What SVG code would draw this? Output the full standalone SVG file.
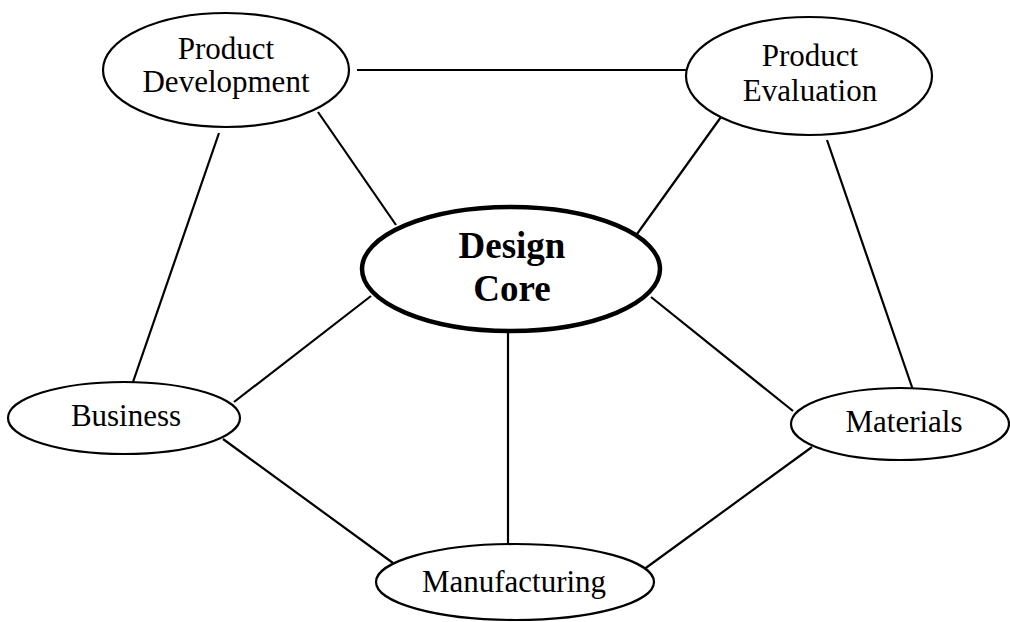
<svg xmlns="http://www.w3.org/2000/svg" width="1010" height="622" viewBox="0 0 1010 622">
<style>
.n{fill:#fff;stroke:#000;stroke-width:2.2}
.core{fill:#fff;stroke:#000;stroke-width:4.5}
.t{font-family:"Liberation Serif","Times New Roman",serif;font-size:31px;fill:#000;text-anchor:middle}
.b{font-family:"Liberation Serif","Times New Roman",serif;font-size:37px;font-weight:bold;fill:#000;text-anchor:middle}
#edges line{stroke:#000;stroke-width:2.2}
</style>
<rect width="1010" height="622" fill="#fff"/>
<g id="edges">
<line x1="357" y1="70" x2="686" y2="70"/>
<line x1="318" y1="112" x2="396" y2="225"/>
<line x1="219" y1="133" x2="133" y2="382"/>
<line x1="721" y1="117" x2="637" y2="234"/>
<line x1="827" y1="140" x2="913" y2="390"/>
<line x1="371" y1="296" x2="234" y2="402"/>
<line x1="651" y1="297" x2="793" y2="411"/>
<line x1="508" y1="331" x2="508" y2="545"/>
<line x1="223" y1="439" x2="393" y2="563"/>
<line x1="812" y1="447" x2="643" y2="570"/>
</g>
<g id="product-development">
<ellipse class="n" cx="226" cy="70" rx="123" ry="57"/>
<text class="t" x="226" y="59">Product</text>
<text class="t" x="226" y="92">Development</text>
</g>
<g id="product-evaluation">
<ellipse class="n" cx="809" cy="76" rx="123" ry="59"/>
<text class="t" x="810" y="66">Product</text>
<text class="t" x="810" y="101">Evaluation</text>
</g>
<g id="design-core">
<ellipse class="core" cx="511" cy="269" rx="149" ry="62"/>
<text class="b" x="512" y="258">Design</text>
<text class="b" x="512" y="301">Core</text>
</g>
<g id="business">
<ellipse class="n" cx="124" cy="418" rx="116" ry="36"/>
<text class="t" x="126" y="426">Business</text>
</g>
<g id="materials">
<ellipse class="n" cx="900" cy="424" rx="109" ry="36"/>
<text class="t" x="904" y="432">Materials</text>
</g>
<g id="manufacturing">
<ellipse class="n" cx="515" cy="582" rx="139" ry="38"/>
<text class="t" x="514" y="592">Manufacturing</text>
</g>
</svg>
